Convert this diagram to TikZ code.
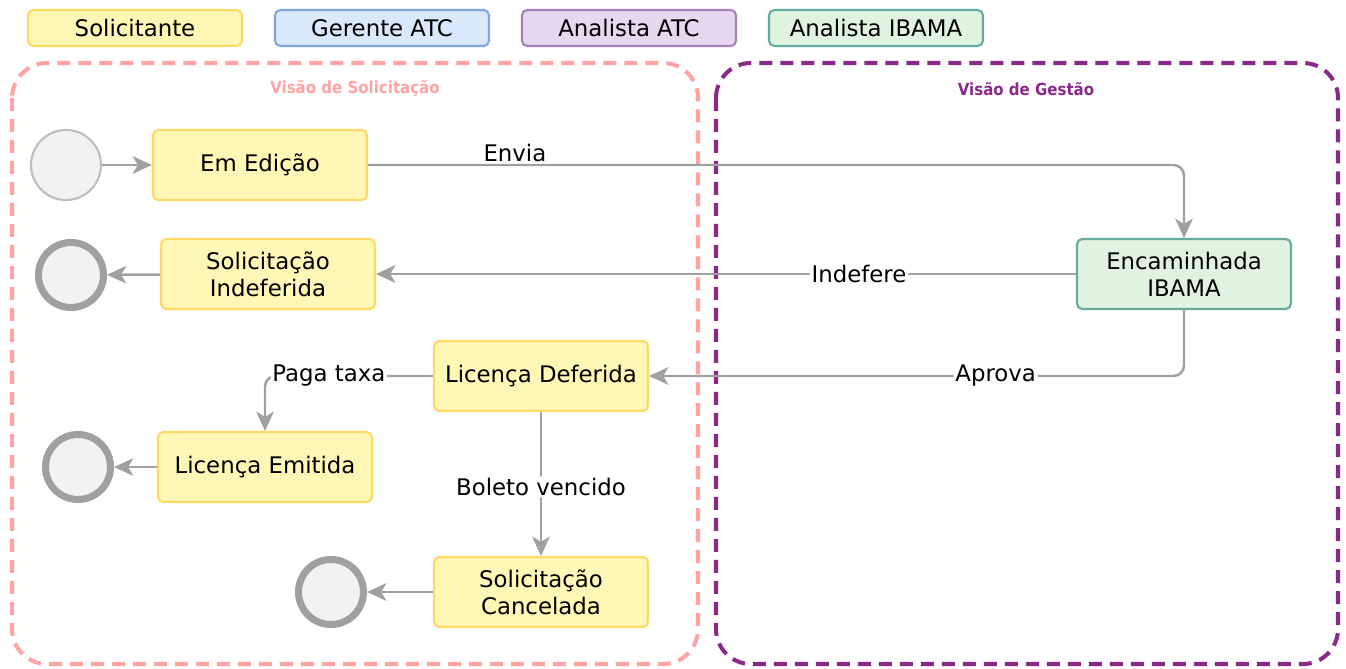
\documentclass[tikz,border=0pt]{standalone}
\usepackage{fontspec}
\setmainfont{DejaVu Sans}
\newfontfamily\condfont{DejaVu Sans Condensed}
\usetikzlibrary{arrows.meta}
\definecolor{solfill}{HTML}{FFF7B5}
\definecolor{soldraw}{HTML}{FFD966}
\definecolor{gerfill}{HTML}{DAE8FC}
\definecolor{gerdraw}{HTML}{7EA6E0}
\definecolor{anafill}{HTML}{E6D9EF}
\definecolor{anadraw}{HTML}{A680B8}
\definecolor{ibafill}{HTML}{DFF3DF}
\definecolor{ibadraw}{HTML}{67AB9F}
\definecolor{pinkline}{HTML}{FFA3A3}
\definecolor{purpline}{HTML}{8A2A88}
\definecolor{edgegray}{HTML}{A0A0A0}
\tikzset{
  state/.style={draw, line width=1.2pt, rounded corners=3pt, minimum width=4.28cm,
    minimum height=1.4cm, align=center, font=\fontsize{13}{15.5}\selectfont},
  legend/.style={state, minimum height=0.72cm},
  startst/.style={draw=edgegray!70, line width=1.2pt, circle, fill=black!5, minimum size=1.4cm},
  endst/.style={draw=edgegray, line width=4pt, circle, fill=black!5, minimum size=1.3cm},
  trans/.style={draw=edgegray, line width=1.4pt, -{Stealth[length=11pt,width=10pt,inset=3pt]}, rounded corners=6pt},
  lbl/.style={fill=white, inner sep=1pt, font=\fontsize{13}{15}\selectfont},
  view/.style={dash pattern=on 0.26cm off 0.16cm, line width=2.3pt, rounded corners=0.7cm},
  viewtitle/.style={font=\condfont\bfseries\fontsize{9.5}{11}\selectfont}
}
\begin{document}
\begin{tikzpicture}[x=0.02cm, y=-0.02cm]
\useasboundingbox (0,0) rectangle (1346,669);
% legenda
\node[legend, draw=soldraw, fill=solfill] (lsol) at (135,28) {Solicitante};
\node[legend, draw=gerdraw, fill=gerfill] (lger) at (382,28) {Gerente ATC};
\node[legend, draw=anadraw, fill=anafill] (lana) at (629,28) {Analista ATC};
\node[legend, draw=ibadraw, fill=ibafill] (liba) at (876,28) {Analista IBAMA};
% visoes
\draw[view, pinkline] (12,63) rectangle (698,664);
\node[viewtitle, text=pinkline] (tsol) at (355,89) {Visão de Solicitação};
\draw[view, purpline] (716,63) rectangle (1338,664);
\node[viewtitle, text=purpline] (tges) at (1026,89) {Visão de Gestão};
% estados
\node[startst] (ini) at (66,165) {};
\node[state, draw=soldraw, fill=solfill] (edi) at (260,165) {Em Edição};
\node[state, draw=soldraw, fill=solfill] (ind) at (268,274) {Solicitação\\Indeferida};
\node[state, draw=ibadraw, fill=ibafill] (enc) at (1184,274) {Encaminhada\\IBAMA};
\node[state, draw=soldraw, fill=solfill] (def) at (541,376) {Licença Deferida};
\node[state, draw=soldraw, fill=solfill] (emi) at (265,467) {Licença Emitida};
\node[state, draw=soldraw, fill=solfill] (can) at (541,592) {Solicitação\\Cancelada};
\node[endst] (fimind) at (71,275) {};
\node[endst] (fimemi) at (78,467) {};
\node[endst] (fimcan) at (331,592) {};
% transicoes
\draw[trans] (ini) -- (edi);
\draw[trans] (edi) -| node[lbl, pos=0.09, yshift=7pt] {Envia} (enc);
\draw[trans] (enc) -- node[lbl, pos=0.31] {Indefere} (ind);
\draw[trans] (enc) |- node[lbl, pos=0.676] {Aprova} (def);
\draw[trans] (def) -| node[lbl, pos=0.31] {Paga taxa} (emi);
\draw[trans] (def) -- node[lbl, pos=0.52] {Boleto vencido} (can);
\draw[trans] (ind) -- (fimind);
\draw[trans] (emi) -- (fimemi);
\draw[trans] (can) -- (fimcan);
\end{tikzpicture}
\end{document}
